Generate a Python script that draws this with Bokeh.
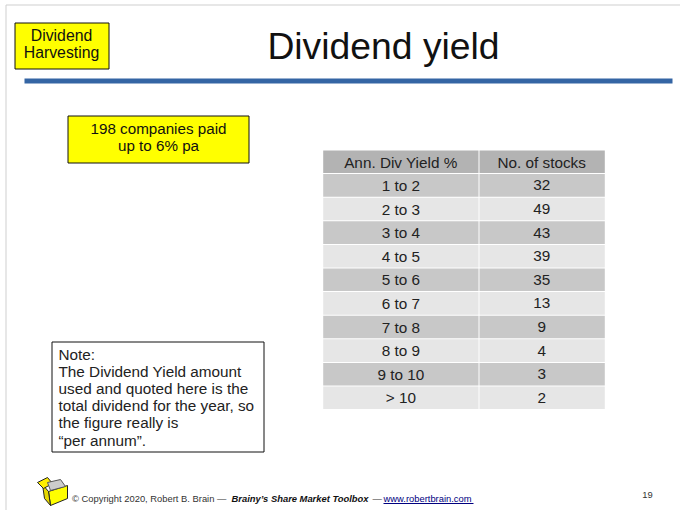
from bokeh.plotting import figure
from bokeh.models import Range1d
from bokeh.core.properties import value
from bokeh.embed import file_html
from bokeh.resources import INLINE

# table content
headers = ["Ann. Div Yield %", "No. of stocks"]
yield_bands = ["1 to 2", "2 to 3", "3 to 4", "4 to 5", "5 to 6", "6 to 7", "7 to 8", "8 to 9", "9 to 10", "> 10"]
stock_counts = [32, 49, 43, 39, 35, 13, 9, 4, 3, 2]
title = "Dividend yield"
tag_lines = ["Dividend", "Harvesting"]
callout_lines = ["198 companies paid", "up to 6% pa"]
note_lines = ["Note:", "The Dividend Yield amount", "used and quoted here is the",
              "total dividend for the year, so", "the figure really is", "\u201cper annum\u201d."]

W, H = 680, 510
FONT = value("Liberation Sans")
p = figure(width=W, height=H, x_range=Range1d(0, W), y_range=Range1d(H, 0),
           output_backend="svg", toolbar_location=None, min_border=0,
           outline_line_color=None, background_fill_color="white")
p.axis.visible = False
p.grid.visible = False

def txt(x, y, s, size, color="#111111", align="center", style="normal", font=FONT):
    p.text([x], [y], text=[s], text_font=font, text_font_size=f"{size}px", text_color=color,
           text_align=align, text_baseline="middle", text_font_style=style)

def box(l, r, t, b, fill, line=None):
    p.quad(left=[l], right=[r], top=[t], bottom=[b], fill_color=fill, line_color=line,
           line_width=1, line_join="miter")

# slide edge
p.line([5.5, 5.5, 680], [510, 4.5, 4.5], line_color="#cfcfcf", line_width=1, line_join="miter")

# header tag
box(14.5, 108.5, 22.5, 68.5, "#ffff00", "#111111")
for i, s in enumerate(tag_lines):
    txt(61, 35 + i * 17, s, 15.8)

txt(383, 45.5, title, 37.3)
box(24, 672, 78, 83, "#3465a4")

# callout
box(67.5, 248.5, 115.5, 162.5, "#ffff00", "#111111")
for i, s in enumerate(callout_lines):
    txt(158, 127.5 + i * 17, s, 15.2)

# table
xs = [322.7, 478, 604.3]
y0, rh = 150, 23.6
for c in range(2):
    l, r = xs[c] + (1 if c else 0), xs[c + 1]
    cx = (xs[c] + xs[c + 1]) / 2
    box(l, r, y0, y0 + rh - 1, "#b3b3b3")
    txt(cx, y0 + rh / 2, headers[c], 15.3, color="#222222")
    for i, v in enumerate(zip(yield_bands, stock_counts)):
        top = y0 + (i + 1) * rh
        box(l, r, top, top + rh - 1, "#c8c8c8" if i % 2 == 0 else "#e6e6e6")
        txt(cx, top + rh / 2 - 0.5, str(v[c]), 15.3, color="#222222")

# note
box(51.5, 263.5, 341.5, 451.5, "white", "#111111")
for i, s in enumerate(note_lines):
    txt(58, 354 + i * 17.1, s, 15.3, align="left", color="#222222")

# box icon
p.patch([48, 67, 67, 50], [491, 485, 498, 505], fill_color="#ffff00", line_color="#222222")
p.patch([42, 48, 50, 44], [484, 491, 505, 498], fill_color="#e6d800", line_color="#222222")
p.patch([37, 47, 52, 43], [482, 477, 483, 488], fill_color="#ffee00", line_color="#222222")
p.patch([47, 60, 65, 50], [482, 479, 486, 490], fill_color="#cccccc", line_color="#555555")

# footer
fy = 498
txt(71.5, fy, "\u00a9 Copyright 2020, Robert B. Brain \u2014", 9.4, color="#333333", align="left")
txt(231, fy, "Brainy\u2019s Share Market Toolbox", 9.4, color="#111111", align="left", style="bold italic")
txt(372, fy, "\u2014", 9.4, color="#333333", align="left")
txt(383, fy, "www.robertbrain.com", 9.4, color="#000080", align="left")
p.line([383, 473], [503, 503], line_color="#000080", line_width=1)
txt(647, 494, "19", 9.4, color="#333333")

open("out.html", "w").write(file_html(p, INLINE))
